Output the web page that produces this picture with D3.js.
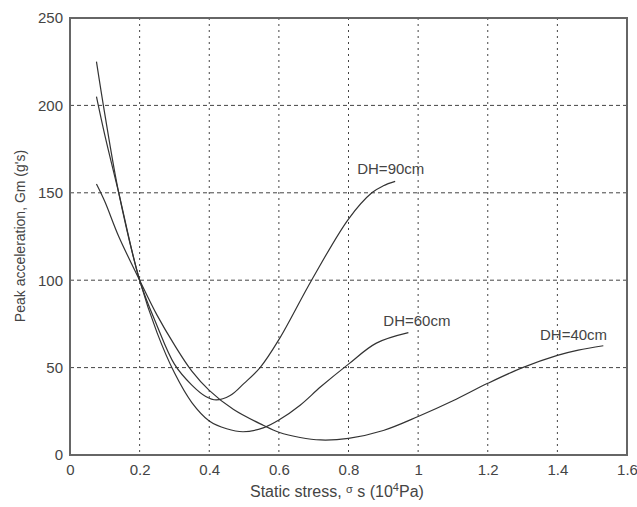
<!DOCTYPE html>
<html>
<head>
<meta charset="utf-8">
<script src="https://cdn.jsdelivr.net/npm/d3@7"></script>
<style>
body { margin: 0; background: #fff; }
text { font-family: "Liberation Sans", Arial, sans-serif; fill: #444; }
</style>
</head>
<body>
<svg id="chart" width="637" height="507"></svg>
<script>
// values
var xTicks = [0, 0.2, 0.4, 0.6, 0.8, 1, 1.2, 1.4, 1.6];
var yTicks = [0, 50, 100, 150, 200, 250];

var dh90x = [0.076, 0.1, 0.14, 0.2, 0.25, 0.3, 0.35, 0.39, 0.42, 0.46, 0.5, 0.546, 0.6, 0.694, 0.8, 0.867, 0.9, 0.934];
var dh90y = [205, 183, 150, 100, 74, 52, 40, 33.5, 31.5, 34, 41, 50, 66, 100, 135, 150, 154, 156.5];

var dh60x = [0.076, 0.1, 0.14, 0.2, 0.25, 0.3, 0.35, 0.4, 0.45, 0.497, 0.555, 0.6, 0.661, 0.72, 0.8, 0.88, 0.972];
var dh60y = [225, 195, 150, 100, 70, 47, 30, 19.5, 15, 13.3, 15.5, 20, 28.5, 39, 52, 64, 70];

var dh40x = [0.076, 0.1, 0.14, 0.2, 0.25, 0.3, 0.35, 0.4, 0.47, 0.555, 0.6, 0.661, 0.72, 0.8, 0.9, 1.0, 1.1, 1.2, 1.3, 1.4, 1.46, 1.532];
var dh40y = [155, 145, 125, 100, 80, 63, 48, 37, 26, 17, 13, 10, 8.6, 9.5, 14, 22, 31, 41, 50, 57, 60, 62.5];

var seriesNames = ["DH=90cm", "DH=60cm", "DH=40cm"];
// label anchor in data units (left edge, baseline)
var labelX = [0.825, 0.9, 1.35];
var labelY = [161, 74, 66];

var margin = {top: 18, right: 10, bottom: 52, left: 70};
var width = 637 - margin.left - margin.right;
var height = 507 - margin.top - margin.bottom;

var svg = d3.select("#chart");
var g = svg.append("g").attr("transform", "translate(" + margin.left + "," + margin.top + ")");

var xscale = d3.scaleLinear().domain([0, 1.6]).range([0, width]);
var yscale = d3.scaleLinear().domain([0, 250]).range([height, 0]);

// grid
g.selectAll(".vgrid").data(xTicks.slice(1, -1))
	.enter().append("line")
		.attr("x1", function(d){ return xscale(d); })
		.attr("x2", function(d){ return xscale(d); })
		.attr("y1", 0).attr("y2", height)
		.attr("stroke", "#444").attr("stroke-width", 1)
		.attr("stroke-dasharray", "2,4");

g.selectAll(".hgrid").data(yTicks.slice(1, -1))
	.enter().append("line")
		.attr("x1", 0).attr("x2", width)
		.attr("y1", function(d){ return yscale(d); })
		.attr("y2", function(d){ return yscale(d); })
		.attr("stroke", "#444").attr("stroke-width", 1)
		.attr("stroke-dasharray", "4,3");

// axes
var xAxis = d3.axisBottom(xscale).tickValues(xTicks).tickSize(0).tickPadding(9)
	.tickFormat(function(d){ return d3.format("")(+d.toFixed(1)); });
var yAxis = d3.axisLeft(yscale).tickValues(yTicks).tickSize(0).tickPadding(7);

var gx = g.append("g").attr("transform", "translate(0," + height + ")").call(xAxis);
var gy = g.append("g").call(yAxis);
[gx, gy].forEach(function(a){
	a.select(".domain").remove();
	a.selectAll("text").attr("font-size", 15).attr("fill", "#444")
		.attr("font-family", "Liberation Sans, Arial, sans-serif");
});

// frame
g.append("rect")
	.attr("x", 0).attr("y", 0).attr("width", width).attr("height", height)
	.attr("fill", "none").attr("stroke", "#666").attr("stroke-width", 2);

// curves
var line = d3.line()
	.x(function(d){ return xscale(d[0]); })
	.y(function(d){ return yscale(d[1]); })
	.curve(d3.curveCatmullRom.alpha(0.5));

var series = [d3.zip(dh90x, dh90y), d3.zip(dh60x, dh60y), d3.zip(dh40x, dh40y)];

g.selectAll(".curve").data(series)
	.enter().append("path")
		.attr("class", "curve")
		.attr("d", line)
		.attr("fill", "none")
		.attr("stroke", "#333")
		.attr("stroke-width", 1.2);

g.selectAll(".lbl").data(seriesNames)
	.enter().append("text")
		.attr("x", function(d, i){ return xscale(labelX[i]); })
		.attr("y", function(d, i){ return yscale(labelY[i]); })
		.attr("font-size", 15)
		.text(function(d){ return d; });

// axis titles
var xt = svg.append("text")
	.attr("x", 250)
	.attr("y", 497)
	.attr("font-size", 16);
xt.append("tspan").text("Static stress, ");
xt.append("tspan").attr("font-size", 11).attr("dy", -4).text("σ");
xt.append("tspan").attr("dy", 4).text(" s (10");
xt.append("tspan").attr("font-size", 11).attr("dy", -6).text("4");
xt.append("tspan").attr("dy", 6).text("Pa)");

svg.append("text")
	.attr("transform", "translate(25,236) rotate(-90)")
	.attr("text-anchor", "middle")
	.attr("font-size", 14)
	.text("Peak acceleration, Gm (g's)");
</script>
</body>
</html>
